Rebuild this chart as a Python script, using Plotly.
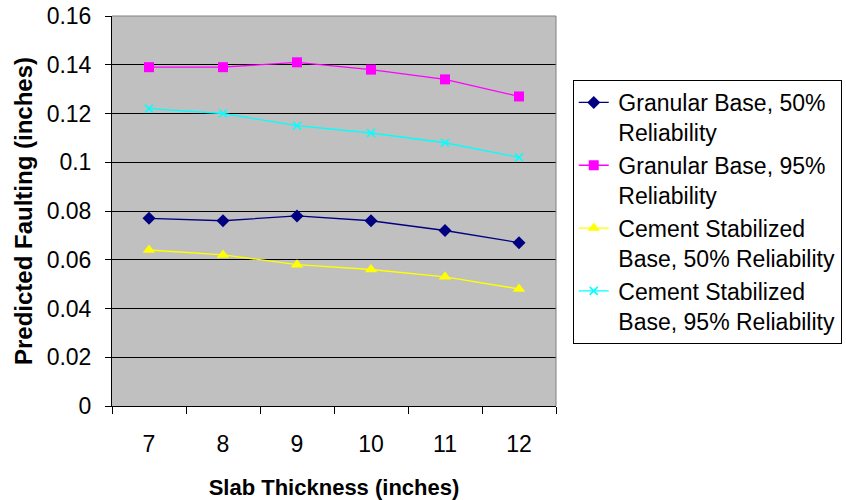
import plotly.graph_objects as go

thickness = ["7", "8", "9", "10", "11", "12"]
granular_50 = [0.077, 0.076, 0.078, 0.076, 0.072, 0.067]
granular_95 = [0.139, 0.139, 0.141, 0.138, 0.134, 0.127]
cement_50 = [0.064, 0.062, 0.058, 0.056, 0.053, 0.048]
cement_95 = [0.122, 0.120, 0.115, 0.112, 0.108, 0.102]

SP = "\u2009"
names = [
    SP + "Granular Base, 50%<br>" + SP + "Reliability",
    SP + "Granular Base, 95%<br>" + SP + "Reliability",
    SP + "Cement Stabilized<br>" + SP + "Base, 50% Reliability",
    SP + "Cement Stabilized<br>" + SP + "Base, 95% Reliability",
]
series = [granular_50, granular_95, cement_50, cement_95]
colors = ["#000080", "#FF00FF", "#FFFF00", "#00FFFF"]
symbols = ["diamond", "square", "triangle-up", "x-thin"]
sizes = [10, 10, 11, 8]

FONT = "Liberation Sans, Arial, sans-serif"

fig = go.Figure()
for n, s, c, sym, sz in zip(names, series, colors, symbols, sizes):
    marker = dict(symbol=sym, size=sz, color=c)
    if sym == "x-thin":
        marker["line"] = dict(color=c, width=1.5)
    fig.add_trace(go.Scatter(x=thickness, y=s, mode="lines+markers", name=n,
                             line=dict(color=c, width=1.3), marker=marker))

fig.update_layout(
    width=846, height=500,
    margin=dict(l=112, r=290, t=16, b=94),
    paper_bgcolor="white", plot_bgcolor="#C0C0C0",
    font=dict(family=FONT, size=23, color="black"),
    showlegend=True,
    legend=dict(xref="container", yref="container", x=0.677, y=0.84,
                xanchor="left", yanchor="top", maxheight=320,
                bordercolor="black", borderwidth=1, bgcolor="white",
                font=dict(size=23, family=FONT), valign="top"),
    xaxis=dict(type="category", range=[-0.5, 5.5], tickson="boundaries",
               ticks="outside", ticklen=7, tickcolor="black",
               showline=True, linecolor="black", linewidth=1,
               showgrid=False, ticklabelstandoff=17, automargin=False,
               title=dict(text="<b>Slab Thickness (inches)</b>", standoff=24,
                          font=dict(size=22))),
    yaxis=dict(range=[0, 0.16], dtick=0.02, tick0=0,
               ticks="outside", ticklen=6, tickcolor="black",
               showline=True, linecolor="black", linewidth=1,
               showgrid=True, gridcolor="black", gridwidth=1,
               zeroline=False, ticklabelstandoff=9, automargin=False,
               title=dict(text="<b>Predicted Faulting (inches)</b>", standoff=7,
                          font=dict(size=24))),
    shapes=[
        dict(type="line", xref="paper", yref="paper", x0=0, x1=1, y0=1, y1=1,
             line=dict(color="#808080", width=1), layer="above"),
        dict(type="line", xref="paper", yref="paper", x0=1, x1=1, y0=0, y1=1,
             line=dict(color="#808080", width=1), layer="above"),
    ],
)

fig.write_html("out.html")
